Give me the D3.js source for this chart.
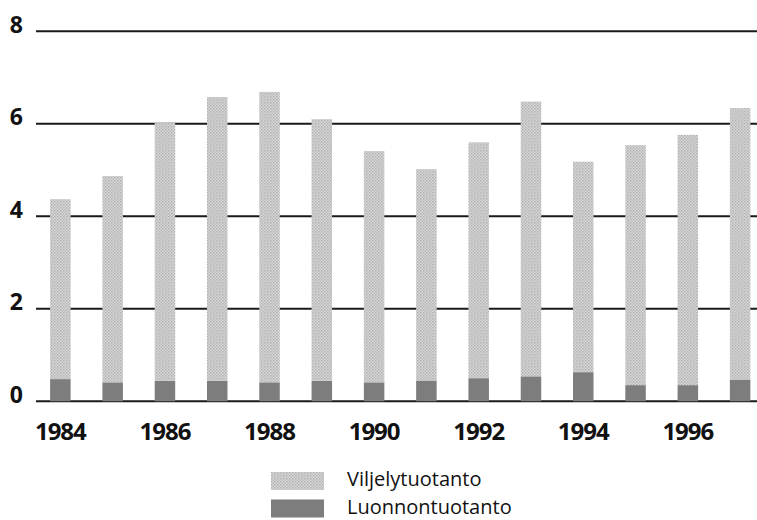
<!DOCTYPE html>
<html>
<head>
<meta charset="utf-8">
<script src="https://cdn.jsdelivr.net/npm/d3@7"></script>
<style>
  html, body { margin: 0; padding: 0; background: #fff; }
  svg { display: block; }
</style>
</head>
<body>
<svg id="chart" width="757" height="520"></svg>
<script>
// values
var years = [1984, 1985, 1986, 1987, 1988, 1989, 1990, 1991, 1992, 1993, 1994, 1995, 1996, 1997];
var luonnontuotanto = [0.48, 0.41, 0.44, 0.44, 0.41, 0.44, 0.41, 0.45, 0.50, 0.54, 0.63, 0.35, 0.35, 0.47];
var viljelytuotanto = [3.89, 4.46, 5.58, 6.14, 6.28, 5.66, 5.00, 4.57, 5.10, 5.94, 4.55, 5.19, 5.41, 5.87];
var yTicks = [0, 2, 4, 6, 8];
var xTickYears = [1984, 1986, 1988, 1990, 1992, 1994, 1996];
var seriesNames = ["Viljelytuotanto", "Luonnontuotanto"];

var svg = d3.select("#chart");

var defs = svg.append("defs");
var pat = defs.append("pattern")
    .attr("id", "stipple")
    .attr("width", 3).attr("height", 3)
    .attr("patternUnits", "userSpaceOnUse");
pat.append("rect").attr("width", 3).attr("height", 3).attr("fill", "#d8d8d8");
pat.append("rect").attr("x", 0).attr("y", 0).attr("width", 1.5).attr("height", 1.5).attr("fill", "#b0b0b0");
pat.append("rect").attr("x", 1.5).attr("y", 1.5).attr("width", 1.5).attr("height", 1.5).attr("fill", "#bcbcbc");

var colors = { "Viljelytuotanto": "url(#stipple)", "Luonnontuotanto": "#7d7d7d" };

var x = d3.scaleBand()
    .domain(years)
    .range([36, 764.5])
    .paddingInner(0.608)
    .paddingOuter(0.27);

var y = d3.scaleLinear()
    .domain([0, 8])
    .range([401.3, 31.3]);

// grid lines
svg.append("g")
    .attr("class", "grid")
    .selectAll("line")
    .data(yTicks)
    .enter().append("line")
    .attr("x1", 36)
    .attr("x2", 757)
    .attr("y1", function (d) { return y(d); })
    .attr("y2", function (d) { return y(d); })
    .attr("stroke", "#1a1a1a")
    .attr("stroke-width", 2);

// y labels
svg.append("g")
    .selectAll("text")
    .data(yTicks)
    .enter().append("text")
    .attr("x", 23)
    .attr("y", function (d) { return y(d) + 1.5; })
    .attr("text-anchor", "end")
    .style("font-family", "'Open Sans', sans-serif")
    .style("font-weight", "bold")
    .style("font-size", "23px")
    .attr("fill", "#111")
    .text(function (d) { return d; });

// stacked bars
var rows = years.map(function (yr, i) {
    return { year: yr, Luonnontuotanto: luonnontuotanto[i], Viljelytuotanto: viljelytuotanto[i] };
});
var stack = d3.stack().keys(["Luonnontuotanto", "Viljelytuotanto"]);
var layers = stack(rows);

svg.append("g")
    .selectAll("g")
    .data(layers)
    .enter().append("g")
    .attr("fill", function (d) { return colors[d.key]; })
    .selectAll("rect")
    .data(function (d) { return d; })
    .enter().append("rect")
    .attr("x", function (d) { return x(d.data.year); })
    .attr("width", x.bandwidth())
    .attr("y", function (d) { return y(d[1]); })
    .attr("height", function (d) { return y(d[0]) - y(d[1]); });

// x labels
svg.append("g")
    .selectAll("text")
    .data(xTickYears)
    .enter().append("text")
    .attr("x", function (d) { return x(d) + x.bandwidth() / 2; })
    .attr("y", 440)
    .attr("text-anchor", "middle")
    .style("font-family", "'Open Sans', sans-serif")
    .style("font-weight", "bold")
    .style("font-size", "24px")
    .style("letter-spacing", "-1px")
    .attr("fill", "#111")
    .text(function (d) { return d; });

// legend
var legend = svg.append("g")
    .selectAll("g")
    .data(seriesNames)
    .enter().append("g")
    .attr("transform", function (d, i) { return "translate(271," + (472 + i * 27.5) + ")"; });

legend.append("rect")
    .attr("width", 53)
    .attr("height", 18)
    .attr("fill", function (d) { return colors[d]; });

legend.append("text")
    .attr("x", 76)
    .attr("y", 14)
    .style("font-family", "'Open Sans', sans-serif")
    .style("font-size", "20px")
    .attr("fill", "#111")
    .text(function (d) { return d; });
</script>
</body>
</html>
